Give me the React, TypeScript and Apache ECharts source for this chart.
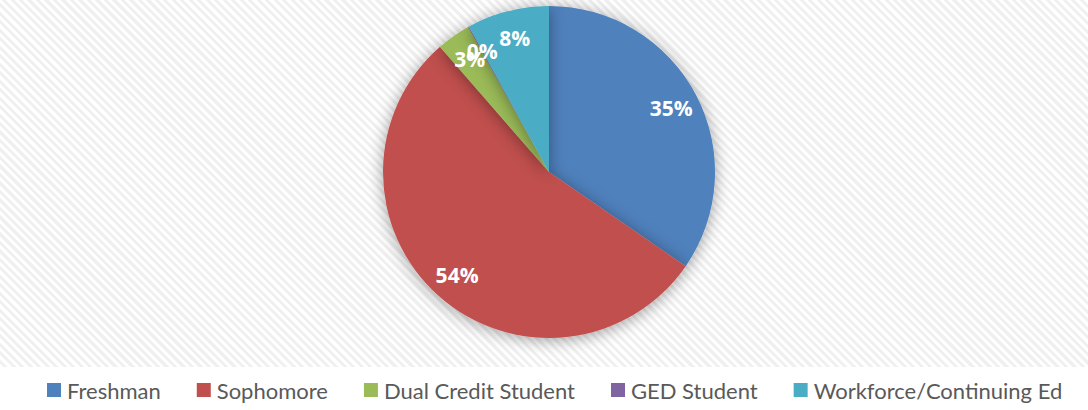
import React, { useEffect, useRef } from "react";
import * as echarts from "echarts";

const categories = [
  "Freshman",
  "Sophomore",
  "Dual Credit Student",
  "GED Student",
  "Workforce/Continuing Ed",
];
const values = [34.6, 54.0, 3.3, 0.1, 8.0];
const colors = ["#4F81BD", "#C0504D", "#9BBB59", "#8064A2", "#4BACC6"];

export default function App() {
  const ref = useRef<HTMLDivElement>(null);
  useEffect(() => {
    if (!ref.current) return;
    const chart = echarts.init(ref.current, undefined, { renderer: "svg" });
    const data = categories.map((name, i) => ({
      name,
      value: values[i],
      itemStyle: { color: colors[i] },
    }));
    const total = values.reduce((a, b) => a + b, 0);
    chart.setOption({
      animation: false,
      backgroundColor: "transparent",
      graphic: [
        {
          type: "rect",
          left: 0,
          top: 367,
          shape: { width: 1088, height: 43 },
          style: { fill: "#ffffff" },
          z: 0,
          silent: true,
        },
      ],
      legend: {
        data: categories,
        left: 42,
        top: 374,
        icon: "rect",
        itemWidth: 14,
        itemHeight: 14,
        itemGap: 36,
        selectedMode: false,
        textStyle: {
          fontFamily: "Lato",
          fontSize: 22,
          color: "#595959",
          padding: [0, 0, 0, 1],
        },
      },
      series: [
        {
          type: "pie",
          name: "main",
          center: [549, 172],
          radius: [0, 166],
          startAngle: 90,
          clockwise: true,
          silent: true,
          label: { show: false },
          labelLine: { show: false },
          itemStyle: {
            borderWidth: 0,
            shadowBlur: 16,
            shadowOffsetY: 2,
            shadowColor: "rgba(0,0,0,0.38)",
          },
          data,
          z: 2,
        },
        {
          type: "pie",
          name: "labels",
          center: [549, 172],
          radius: [104, 166],
          startAngle: 90,
          clockwise: true,
          silent: true,
          itemStyle: { color: "rgba(0,0,0,0)" },
          labelLine: { show: false },
          labelLayout: { hideOverlap: false },
          label: {
            show: true,
            position: "inside",
            color: "#ffffff",
            fontFamily: "Open Sans",
            fontWeight: "bold",
            fontSize: 21,
            formatter: (p: any) => `${Math.round((p.value / total) * 100)}%`,
          },
          data: categories.map((name, i) => ({ name, value: values[i] })),
          z: 3,
        },
      ],
    });
    return () => chart.dispose();
  }, []);
  return (
    <div
      ref={ref}
      style={{
        position: "absolute",
        left: 0,
        top: 0,
        width: 1088,
        height: 410,
        background:
          "repeating-linear-gradient(45deg, #ffffff 0px, #ffffff 3px, #f0f0f0 3px, #f0f0f0 6px)",
      }}
    />
  );
}
